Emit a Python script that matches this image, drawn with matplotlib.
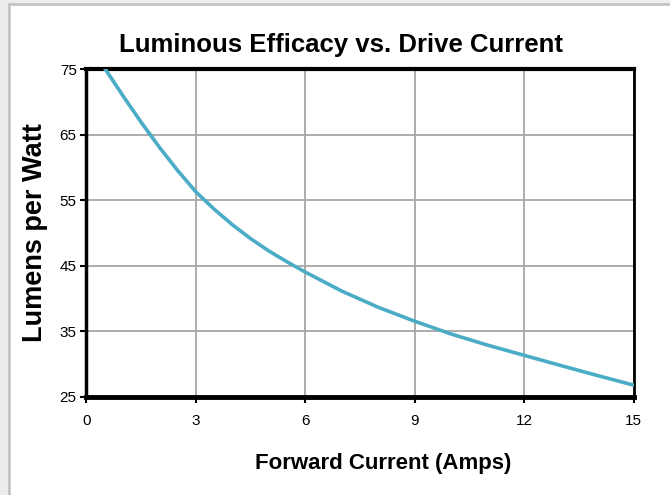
import matplotlib
matplotlib.use("Agg")
import matplotlib.pyplot as plt
from matplotlib.patches import Rectangle

# forward current (A) and efficacy (lm/W)
current = [0.52, 1.0, 1.5, 2.0, 2.5, 3.0, 3.5, 4.0, 4.5, 5.0, 5.5, 6.0, 7.0, 8.0,
           9.0, 10.0, 11.0, 12.0, 13.0, 14.0, 15.0]
lumens_per_watt = [75.0, 70.97, 66.92, 63.1, 59.55, 56.3, 53.66, 51.28, 49.16, 47.28,
                   45.61, 44.05, 41.15, 38.68, 36.55, 34.6, 32.9, 31.35, 29.8, 28.28, 26.8]

x_ticks = [0, 3, 6, 9, 12, 15]
y_ticks = [25, 35, 45, 55, 65, 75]

font = ['Liberation Sans', 'DejaVu Sans']

fig = plt.figure(figsize=(6.7, 4.95), dpi=100)

# grey frame around the chart area
fig.patches.append(Rectangle((0, 0), 1, 1, transform=fig.transFigure,
                             facecolor='#ededed', edgecolor='none', zorder=-3))
fig.patches.append(Rectangle((9 / 670, -0.1), 1.2, 1.1 - 4 / 495,
                             transform=fig.transFigure, facecolor='white',
                             edgecolor='#c4c4c4', linewidth=2, zorder=-2))

ax = fig.add_axes([0.129, 0.198, 0.817, 0.662])
ax.plot(current, lumens_per_watt, color='#4bacc6', linewidth=2.6, zorder=3)

ax.set_xlim(0, 15)
ax.set_ylim(25, 75)
ax.set_xticks(x_ticks)
ax.set_yticks(y_ticks)
ax.set_xticklabels([str(t) for t in x_ticks], family=font, fontsize=11)
ax.set_yticklabels([str(t) for t in y_ticks], family=font, fontsize=11)
ax.tick_params(direction='out', length=4, width=1.5, color='black')
ax.tick_params(axis='x', pad=8)
ax.tick_params(axis='y', pad=3)
ax.grid(True, color='#a6a6a6', linewidth=1.3)
ax.set_axisbelow(True)

for side, lw in [('left', 2.5), ('bottom', 3.5), ('top', 3), ('right', 2)]:
    ax.spines[side].set_linewidth(lw)
    ax.spines[side].set_color('black')

fig.text(341 / 670, 1 - 45 / 495, 'Luminous Efficacy vs. Drive Current',
         family=font, fontsize=18.5, fontweight='bold', ha='center', va='center')
fig.text(383 / 670, 1 - 463 / 495, 'Forward Current (Amps)',
         family=font, fontsize=16, fontweight='bold', ha='center', va='center')
fig.text(35 / 670, 1 - 233 / 495, 'Lumens per Watt', family=font, fontsize=19.5,
         fontweight='bold', rotation=90, ha='center', va='center')

fig.savefig('out.png', dpi=100)
